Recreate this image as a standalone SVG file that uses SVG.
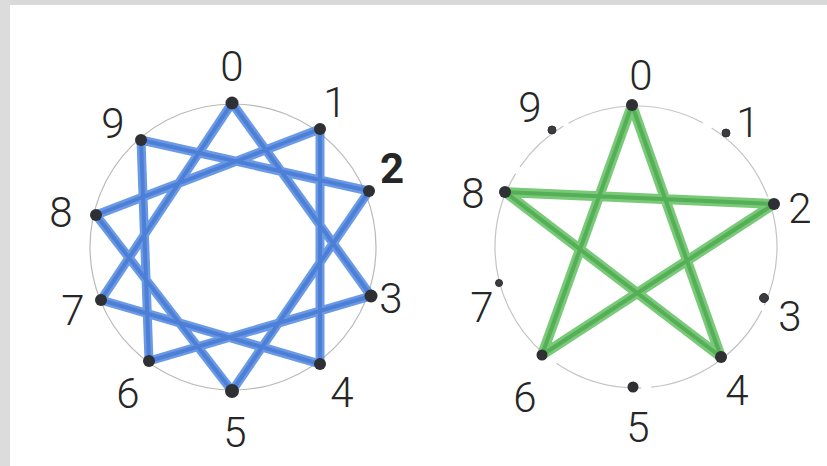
<svg xmlns="http://www.w3.org/2000/svg" width="827" height="466" viewBox="0 0 827 466">
<style>
.ring{fill:none;stroke:#b9b9b9;stroke-width:1.2}
.ringR{fill:none;stroke:#c4c4c4;stroke-width:1.2;stroke-dasharray:60 6 140 10 90 14 200 8}
.blue{stroke:#5088e0;stroke-width:9;stroke-linecap:round;stroke-linejoin:round;opacity:0.85;fill:none}
.blue2{stroke:#2c60c4;stroke-width:4;stroke-linecap:round;stroke-linejoin:round;opacity:0.45;fill:none}
.green{stroke:#62c060;stroke-width:10;stroke-linecap:round;stroke-linejoin:round;opacity:0.85;fill:none}
.green2{stroke:#2f9636;stroke-width:4;stroke-linecap:round;stroke-linejoin:round;opacity:0.5;fill:none}
.dot{fill:#2e3034}
.dotS{fill:#3a3c40;stroke:#2e3034;stroke-width:1}
.lbl{font-family:Roboto,"Liberation Sans",sans-serif;font-weight:300;font-size:42px;fill:#262626;text-anchor:middle}
</style>
<rect x="0" y="0" width="827" height="466" fill="#ffffff"/>
<rect x="0" y="0" width="827" height="5" fill="#d9d9d9"/>
<rect x="0" y="0" width="10" height="466" fill="#dcdcdc"/>

<circle class="ring" cx="233" cy="247" r="143"/>
<circle class="ringR" cx="636" cy="247" r="141"/>

<g id="connectors">
  <g id="left-star">
    <polyline class="blue" points="232,103 371,296 149,361 141,140 369,191 232,391 96,215 320,129 320,364 101,300 232,103"/>
    <polyline class="blue2" points="232,103 371,296 149,361 141,140 369,191 232,391 96,215 320,129 320,364 101,300 232,103"/>
  </g>
  <g id="right-star">
    <polyline class="green" points="632,105 721,357 505,192 774,204 542,355 632,105"/>
    <polyline class="green2" points="632,105 721,357 505,192 774,204 542,355 632,105"/>
  </g>
</g>

<g id="left-nodes">
  <g id="L0"><circle class="dot" cx="232" cy="103" r="6.5"/><text class="lbl" x="232" y="81">0</text></g>
  <g id="L1"><circle class="dot" cx="320" cy="129" r="6"/><text class="lbl" x="335" y="117">1</text></g>
  <g id="L2"><circle class="dot" cx="369" cy="191" r="6"/><text class="lbl" x="392" y="183" style="font-weight:700">2</text></g>
  <g id="L3"><circle class="dot" cx="371" cy="296" r="6.5"/><text class="lbl" x="391" y="313">3</text></g>
  <g id="L4"><circle class="dot" cx="320" cy="364" r="6"/><text class="lbl" x="342" y="407">4</text></g>
  <g id="L5"><circle class="dot" cx="232" cy="391" r="7"/><text class="lbl" x="235" y="447">5</text></g>
  <g id="L6"><circle class="dot" cx="149" cy="361" r="6"/><text class="lbl" x="128" y="408">6</text></g>
  <g id="L7"><circle class="dot" cx="101" cy="300" r="6"/><text class="lbl" x="73" y="325">7</text></g>
  <g id="L8"><circle class="dot" cx="96" cy="215" r="6"/><text class="lbl" x="61" y="227">8</text></g>
  <g id="L9"><circle class="dot" cx="141" cy="140" r="6"/><text class="lbl" x="113" y="138">9</text></g>
</g>

<g id="right-nodes">
  <g id="R0"><circle class="dot" cx="632" cy="105" r="6"/><text class="lbl" x="641" y="90">0</text></g>
  <g id="R1"><circle class="dotS" cx="726" cy="133" r="4"/><text class="lbl" x="748" y="137">1</text></g>
  <g id="R2"><circle class="dot" cx="774" cy="204" r="6"/><text class="lbl" x="800" y="223">2</text></g>
  <g id="R3"><circle class="dotS" cx="764" cy="298" r="4.5"/><text class="lbl" x="790" y="331">3</text></g>
  <g id="R4"><circle class="dot" cx="721" cy="357" r="6"/><text class="lbl" x="737" y="405">4</text></g>
  <g id="R5"><circle class="dot" cx="633" cy="387" r="5.5"/><text class="lbl" x="638" y="442">5</text></g>
  <g id="R6"><circle class="dot" cx="542" cy="355" r="5.5"/><text class="lbl" x="525" y="412">6</text></g>
  <g id="R7"><circle class="dotS" cx="499" cy="283" r="3.5"/><text class="lbl" x="482" y="322">7</text></g>
  <g id="R8"><circle class="dot" cx="505" cy="192" r="6"/><text class="lbl" x="473" y="208">8</text></g>
  <g id="R9"><circle class="dotS" cx="552" cy="130" r="4"/><text class="lbl" x="530" y="122">9</text></g>
</g>
</svg>
